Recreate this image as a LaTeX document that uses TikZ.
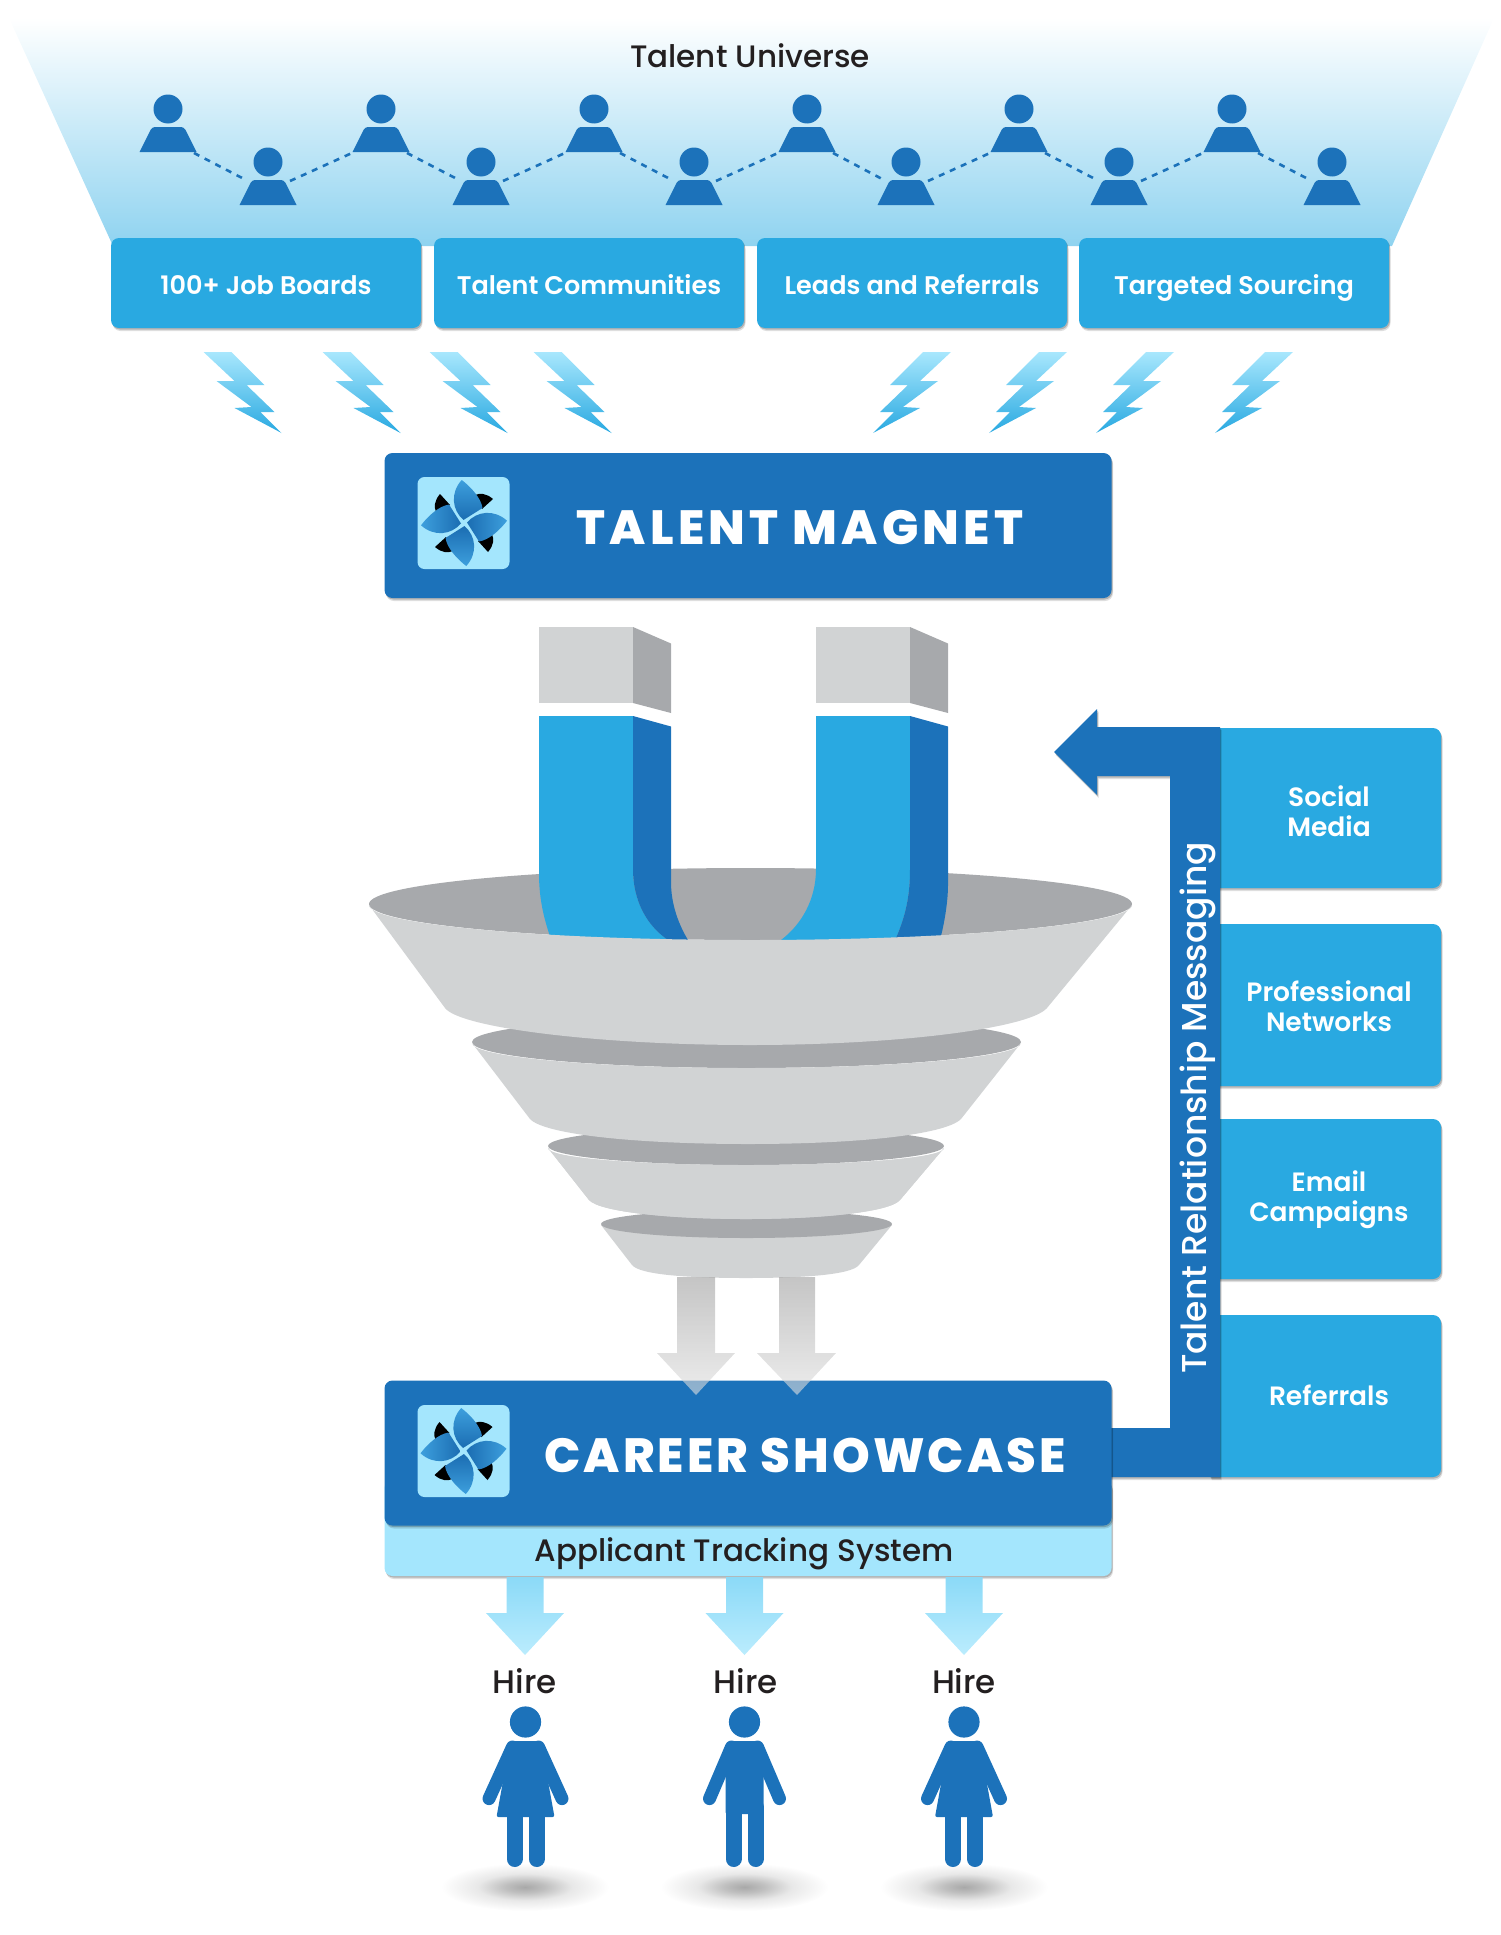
\documentclass[tikz,border=0pt]{standalone}
\usepackage{fontspec}
\usetikzlibrary{calc}
\setmainfont{Poppins}
\newfontfamily\pmed{Poppins Medium}
\newfontfamily\psemi{Poppins SemiBold}
\newfontfamily\pblka[LetterSpace=9]{Poppins ExtraBold}
\newfontfamily\pblkb[LetterSpace=6.4]{Poppins ExtraBold}
\definecolor{dkblue}{HTML}{1C72BA}
\definecolor{mdblue}{HTML}{29A9E1}
\definecolor{ltblue}{HTML}{A4E6FD}
\definecolor{txtblk}{HTML}{231F20}
\definecolor{fgrey}{HTML}{D1D3D4}
\definecolor{dgrey}{HTML}{A7A9AC}
\definecolor{hazeblue}{HTML}{8FD3F0}
\definecolor{bladelt}{HTML}{3D9FDD}
\definecolor{bladedk}{HTML}{1B6DB2}
\pgfdeclareradialshading{softshadow}{\pgfpointorigin}{color(0bp)=(black!34);color(6bp)=(black!25);color(14bp)=(black!9);color(25bp)=(white);color(50bp)=(white)}
\tikzset{
 softsh/.style={preaction={fill=black,opacity=.13,transform canvas={xshift=1.5pt,yshift=-3pt}},preaction={fill=black,opacity=.2,transform canvas={xshift=1pt,yshift=-1.5pt}}},
 srcbox/.style={fill=mdblue,rounded corners=8pt,minimum width=310pt,minimum height=90pt,inner sep=0pt,text=white,text height=26pt,text depth=4pt,font=\psemi\fontsize{25.5}{28}\selectfont,softsh},
 bannerbox/.style={fill=dkblue,rounded corners=8pt,minimum width=727pt,minimum height=145pt,inner sep=0pt,softsh},
 bannertxt/.style={text=white,inner sep=0pt},
 sidetxt/.style={text=white,inner sep=0pt,align=center,font=\psemi\fontsize{26.5}{29.6}\selectfont},
 darktxt/.style={text=txtblk,inner sep=0pt,font=\pmed\fontsize{31}{34}\selectfont},
 logobg/.style={fill=ltblue,rounded corners=7pt,minimum width=92pt,minimum height=92pt,inner sep=0pt},
 bolt/.style={top color=ltblue!95!white,bottom color=mdblue},
 greyarrow/.style={top color=black!38,bottom color=black!12,fill opacity=.6,draw=none},
 lightarrow/.style={top color=ltblue!80!mdblue,bottom color=ltblue!75!white},
}
\newcommand{\blademark}[2]{%
 \begin{scope}[shift={(#1,#2)}]
  \foreach \r in {0,-90,-180,-270}{
   \fill[black,rotate=\r] (-24,-29) .. controls (-30,-22) and (-30,-16) .. (-28,-11) -- (-14,-18) -- cycle;
  }
  \foreach \r in {0,-90,-180,-270}{
   \path[rotate=\r,top color=bladelt,bottom color=bladedk,shading angle=\r]
    (-0.5,-3) .. controls (-12,-13) and (-14,-30) .. (-2.3,-43)
    .. controls (7,-36) and (17,-25) .. (18.5,-15) -- cycle;
  }
 \end{scope}}
\newcommand{\boltshape}{(0,0) -- (28,0) -- (61,33) -- (43,33) -- (71,60) -- (57,60) -- (78,81) -- (31,56) -- (48,55) -- (13,29) -- (31,29) -- cycle}
\newcommand{\femaleman}[1]{%
 \begin{scope}[shift={(#1,1722)}]
  \fill[dkblue] (0,0) circle (15.6pt);
  \draw[dkblue,line width=13pt,line cap=round] (-13,25) -- (-36.5,76.6);
  \draw[dkblue,line width=13pt,line cap=round] (13,25) -- (36.5,76.6);
  \fill[dkblue,rounded corners=2pt] (-15,19) -- (15,19) -- (23,62) -- (29,95) -- (-29,95) -- (-23,62) -- cycle;
  \draw[dkblue,line width=16pt,line cap=round] (-11,90) -- (-11,137);
  \draw[dkblue,line width=16pt,line cap=round] (11,90) -- (11,137);
 \end{scope}}
\newcommand{\maleman}[1]{%
 \begin{scope}[shift={(#1,1722)}]
  \fill[dkblue] (0,0) circle (15.6pt);
  \draw[dkblue,line width=13pt,line cap=round] (-13,25) -- (-35,76.6);
  \draw[dkblue,line width=13pt,line cap=round] (13,25) -- (35,76.6);
  \fill[dkblue,rounded corners=2pt] (-15,19) -- (15,19) -- (19,45) -- (19,92) -- (-19,92) -- (-19,45) -- cycle;
  \draw[dkblue,line width=16pt,line cap=round] (-11,85) -- (-11,137);
  \draw[dkblue,line width=16pt,line cap=round] (11,85) -- (11,137);
 \end{scope}}
\begin{document}
\begin{tikzpicture}[x=1pt,y=-1pt]
\useasboundingbox (0,0) rectangle (1500,1935);
% talent universe backdrop
\path[top color=white,bottom color=hazeblue] (9,18) -- (1494,18) -- (1392,246) -- (113,246) -- cycle;
\node[darktxt] (title) at (750,56) {Talent Universe};
% people
\foreach \n/\px/\py in {1/168/109,2/268/162,3/381/109,4/481/162,5/594/109,6/694/162,7/807/109,8/906/162,9/1019/109,10/1119/162,11/1232/109,12/1332/162}{
 \coordinate (p\n) at (\px,\py);
 \begin{scope}[shift={(\px,\py)}]
  \fill[dkblue] (0,0) circle (14.5pt);
  \fill[dkblue] (-28.5,43) [rounded corners=3pt] -- (-16,18) -- (16,18) [sharp corners] -- (28.5,43) -- cycle;
 \end{scope}
}
\foreach \a/\b in {1/2,3/4,5/6,7/8,9/10,11/12}{
 \draw[dkblue,line width=2.6pt,dash pattern=on 6pt off 6pt] ($(p\a)+(26,44)$) -- ($(p\b)+(-22,18)$);
}
\foreach \a/\b in {2/3,4/5,6/7,8/9,10/11}{
 \draw[dkblue,line width=2.6pt,dash pattern=on 6pt off 6pt] ($(p\a)+(22,19)$) -- ($(p\b)+(-29,44)$);
}
% source boxes
\node[srcbox] (b1) at (266,283) {100+ Job Boards};
\node[srcbox] (b2) at (589,283) {Talent Communities};
\node[srcbox] (b3) at (912,283) {Leads and Referrals};
\node[srcbox] (b4) at (1234,283) {Targeted Sourcing};
% bolts
\foreach \bx in {203,322,429,533}{
 \path[bolt,shift={(\bx+0.5,352)}] \boltshape;
}
\foreach \bx in {951,1067,1174,1293}{
 \path[bolt,shift={(\bx,352)},xscale=-1] \boltshape;
}
% banner top
\node[bannerbox] (magnet) at (748,525.5) {};
\node[logobg] (logoa) at (463.5,523) {};
\blademark{464}{523}
\node[bannertxt,font=\pblka\fontsize{48}{50}\selectfont] (magtxt) at (800,528) {TALENT MAGNET};
% magnet and funnel
\begin{scope}[xshift=1pt]
\fill[fgrey] (538,627) rectangle (632,703);
\fill[dgrey] (632,627) -- (670,643.5) -- (670,713) -- (632,703) -- cycle;
\fill[fgrey] (815,627) rectangle (909,703);
\fill[dgrey] (909,627) -- (947,643.5) -- (947,713) -- (909,703) -- cycle;
\end{scope}
\fill[fgrey] (601,1225) -- (632,1265) .. controls (640,1275) and (690,1278) .. (746,1278) .. controls (802,1278) and (851,1275) .. (859,1265) -- (892,1225) -- cycle;
\fill[dgrey] (746.5,1224) ellipse (145.5pt and 14pt);
\fill[fgrey] (548,1148) -- (589,1200) .. controls (600,1212) and (670,1219) .. (746,1219) .. controls (822,1219) and (890,1212) .. (900,1200) -- (944,1148) .. controls (944,1158) and (855,1165) .. (746,1165) .. controls (637,1165) and (548,1158) .. (548,1148) -- cycle;
\fill[dgrey] (746,1146) ellipse (198pt and 19pt);
\fill[fgrey] (548,1148) -- (589,1200) .. controls (600,1212) and (670,1219) .. (746,1219) .. controls (822,1219) and (890,1212) .. (900,1200) -- (944,1148) .. controls (944,1158) and (855,1165) .. (746,1165) .. controls (637,1165) and (548,1158) .. (548,1148) -- cycle;
\fill[dgrey] (746.5,1042) ellipse (274.5pt and 26pt);
\fill[fgrey] (472,1043) -- (530,1119) .. controls (545,1135) and (640,1144) .. (748,1144) .. controls (856,1144) and (945,1135) .. (961,1119) -- (1021,1043) .. controls (1021,1057) and (898,1068) .. (746.5,1068) .. controls (595,1068) and (472,1057) .. (472,1043) -- cycle;
\fill[dgrey] (750.5,904) ellipse (381.5pt and 36pt);
% magnet legs
\begin{scope}[xshift=1pt]
\fill[mdblue] (538,716) -- (538,873) .. controls (538,900) and (543,920) .. (552,945) -- (690,945) -- (667,940) .. controls (645,925) and (632,900) .. (632,869) -- (632,716) -- cycle;
\fill[dkblue] (632,716) -- (670,726.5) -- (670,882) .. controls (670,905) and (678,925) .. (687,940) -- (690,945) -- (660,945) -- (667,940) .. controls (645,925) and (632,900) .. (632,869) -- cycle;
\fill[mdblue] (815,716) -- (815,869) .. controls (815,900) and (800,925) .. (780,940) -- (780,945) -- (898,945) -- (895,938) .. controls (905,915) and (909,895) .. (909,869) -- (909,716) -- cycle;
\fill[dkblue] (909,716) -- (947,726.5) -- (947,885) .. controls (947,900) and (944,920) .. (940,936) -- (940,945) -- (893,945) -- (895,938) .. controls (905,915) and (909,895) .. (909,869) -- cycle;
\end{scope}
% funnel top body
\fill[fgrey] (369,905) -- (445,1008) .. controls (460,1028) and (600,1045) .. (750,1045) .. controls (900,1045) and (1030,1028) .. (1047,1008) -- (1132,905) .. controls (1132,924) and (960,940) .. (750.5,940) .. controls (540,940) and (369,924) .. (369,905) -- cycle;
% side boxes
\foreach \ya/\yb in {728/888,924/1086,1119/1279,1315/1477}{
 \path[fill=mdblue,softsh] (1210,\ya) [rounded corners=8pt] -- (1441,\ya) -- (1441,\yb) [sharp corners] -- (1210,\yb) -- cycle;
}
\node[sidetxt] (s1) at (1329,811) {Social\\Media};
\node[sidetxt] (s2) at (1329,1006.5) {Professional\\Networks};
\node[sidetxt] (s3) at (1329,1200) {Email\\Campaigns};
\node[sidetxt] (s4) at (1329,1395) {Referrals};
% applicant bar and career banner
\node[fill=ltblue,rounded corners=8pt,minimum width=727pt,minimum height=96pt,inner sep=0pt,softsh] (ats) at (748,1528) {};
% feedback arrow
\path[fill=dkblue,softsh] (1105,1428) -- (1170,1428) -- (1170,776) -- (1097,776) -- (1097,795) -- (1054,752) -- (1097,709) -- (1097,727) -- (1220,727) -- (1220,1477) -- (1105,1477) -- cycle;
\node[bannerbox] (career) at (748,1453) {};
\node[logobg] (logob) at (463.5,1451) {};
\blademark{463.5}{1451}
\node[bannertxt,font=\pblkb\fontsize{48}{50}\selectfont] (cartxt) at (805,1455) {CAREER SHOWCASE};
\node[darktxt] (atstxt) at (744,1554) {Applicant Tracking System};
\node[text=white,inner sep=0pt,rotate=90,font=\pmed\fontsize{34.5}{36}\selectfont] (trm) at (1198,1108) {Talent Relationship Messaging};
% grey arrows from funnel to career showcase
\path[greyarrow] (677,1277) -- (715,1277) -- (715,1353) -- (735,1353) -- (696,1395) -- (657,1353) -- (677,1353) -- cycle;
\path[greyarrow] (779,1277) -- (815,1277) -- (815,1353) -- (836,1353) -- (797,1395) -- (757,1353) -- (779,1353) -- cycle;
% hire arrows
\foreach \ax in {525,744.5,964}{
 \path[lightarrow] (\ax-18.5,1577) -- (\ax+18.5,1577) -- (\ax+18.5,1613) -- (\ax+39,1613) -- (\ax,1655) -- (\ax-39,1613) -- (\ax-18.5,1613) -- cycle;
}
\node[darktxt,font=\pmed\fontsize{32.5}{36}\selectfont] (h1) at (525,1681) {Hire};
\node[darktxt,font=\pmed\fontsize{32.5}{36}\selectfont] (h2) at (746,1681) {Hire};
\node[darktxt,font=\pmed\fontsize{32.5}{36}\selectfont] (h3) at (964,1681) {Hire};
% ground shadows
\foreach \sx in {525,744.5,964}{
 \path[shading=softshadow] (\sx,1887) ellipse (84pt and 24pt);
}
\femaleman{525.5}
\maleman{744.5}
\femaleman{964}
\end{tikzpicture}
\end{document}
